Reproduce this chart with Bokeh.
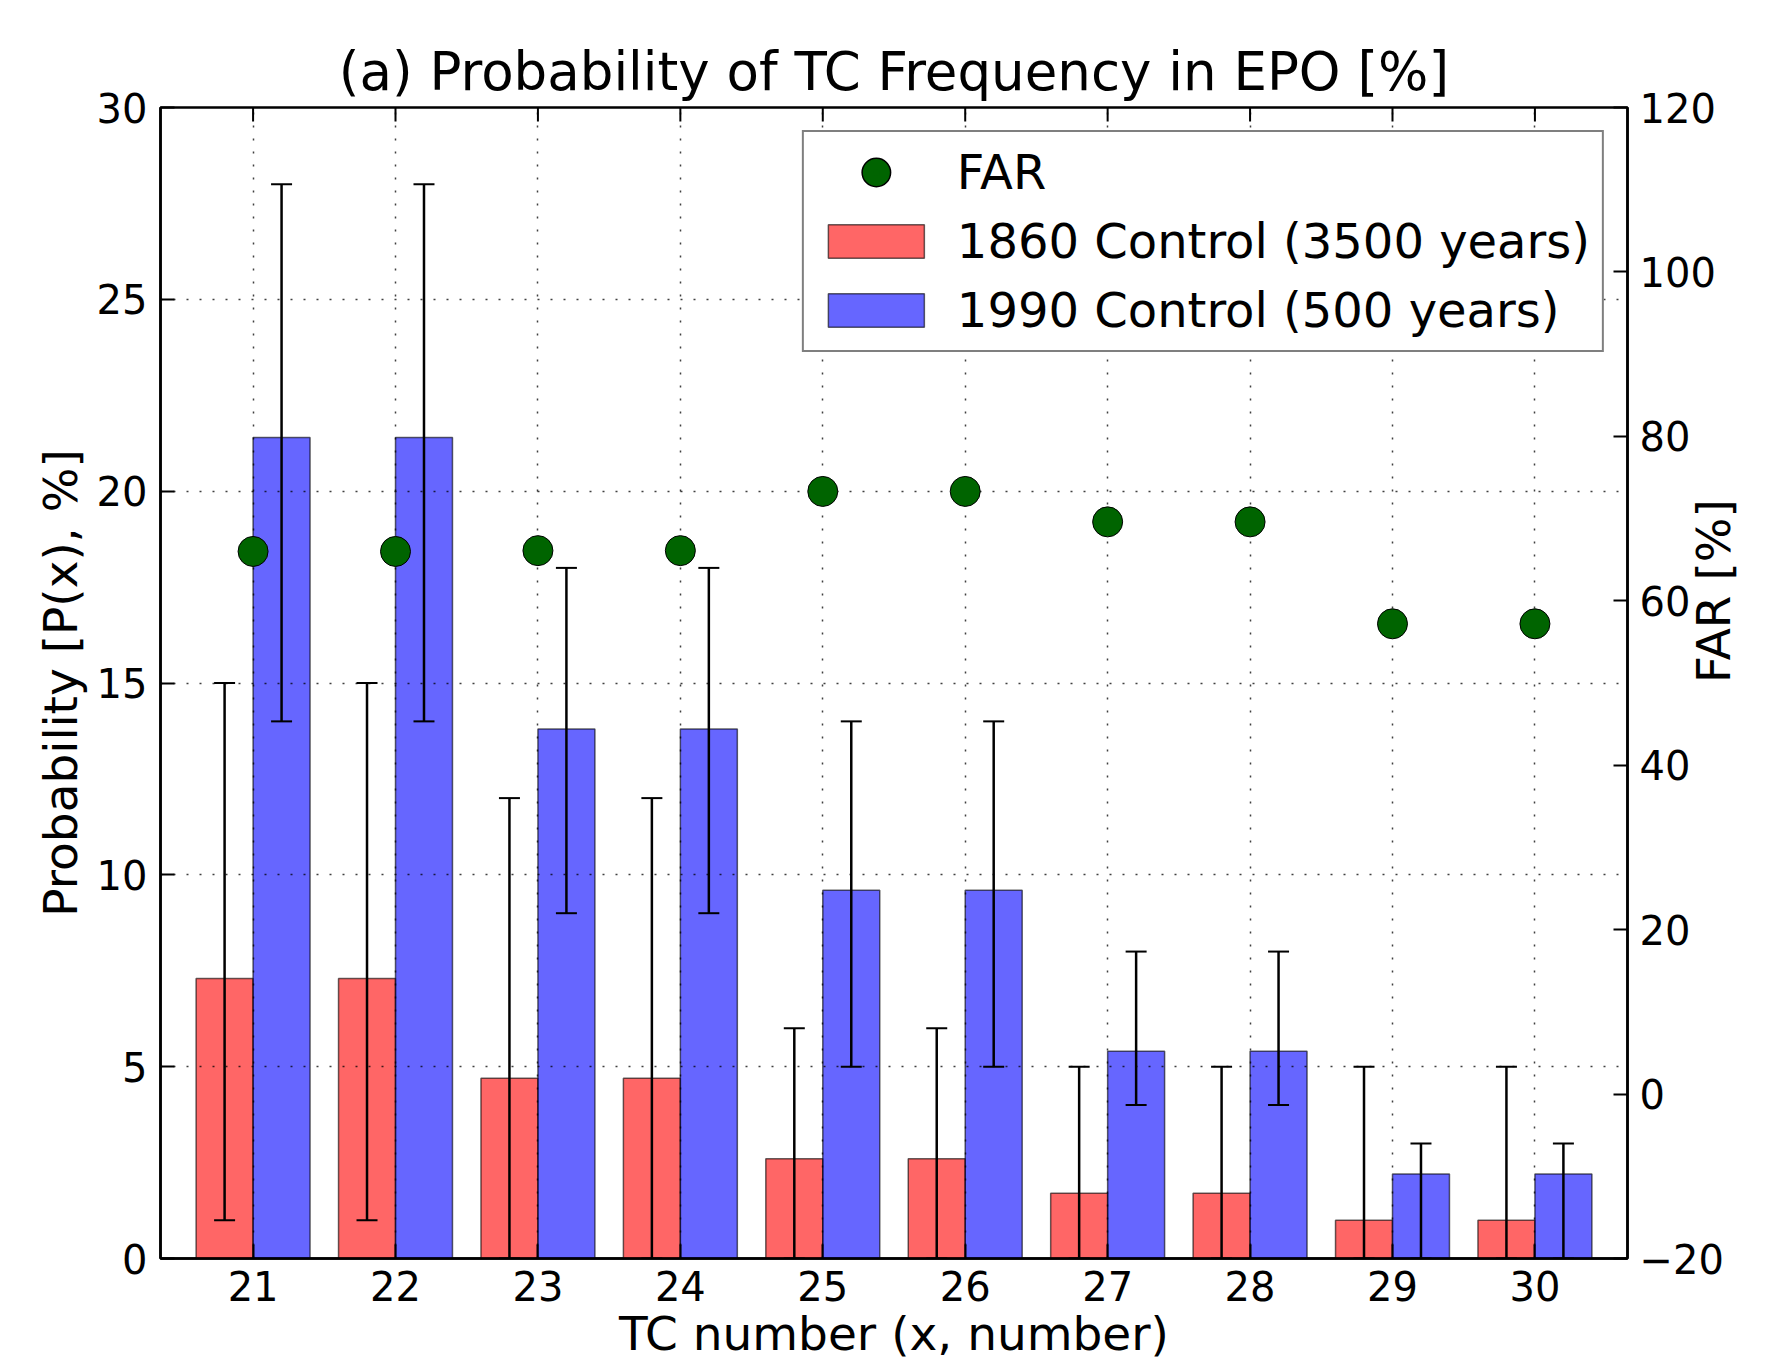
import math
from bokeh.plotting import figure
from bokeh.models import (Range1d, LinearAxis, FixedTicker, ColumnDataSource,
                          Whisker, TeeHead, Legend, LegendItem)
from bokeh.embed import file_html
from bokeh.resources import INLINE

# ---------------- data ----------------
tc_number = [21, 22, 23, 24, 25, 26, 27, 28, 29, 30]
prob_1860 = [7.3, 7.3, 4.7, 4.7, 2.6, 2.6, 1.7, 1.7, 1.0, 1.0]
prob_1990 = [21.4, 21.4, 13.8, 13.8, 9.6, 9.6, 5.4, 5.4, 2.2, 2.2]
err_1860_low = [1, 1, 0, 0, 0, 0, 0, 0, 0, 0]
err_1860_high = [15, 15, 12, 12, 6, 6, 5, 5, 5, 5]
err_1990_low = [14, 14, 9, 9, 5, 5, 4, 4, 0, 0]
err_1990_high = [28, 28, 18, 18, 14, 14, 8, 8, 3, 3]
far = [66.0, 66.0, 66.1, 66.1, 73.3, 73.3, 69.6, 69.6, 57.2, 57.2]
prob_ticks = [0, 5, 10, 15, 20, 25, 30]
far_ticks = [-20, 0, 20, 40, 60, 80, 100, 120]

BAR_W = 0.4
FONT = "DejaVu Sans"
W, H = 1771, 1365
B_LEFT, B_RIGHT, B_TOP, B_BOTTOM = 160, 144, 107, 107
X_LO, X_HI = 20.35, 30.65
Y_LO, Y_HI = 0, 30

src = ColumnDataSource(dict(
    x=tc_number,
    x_red=[x - BAR_W / 2 for x in tc_number],
    x_blue=[x + BAR_W / 2 for x in tc_number],
    p1860=prob_1860, p1990=prob_1990,
    lo1860=err_1860_low, hi1860=err_1860_high,
    lo1990=err_1990_low, hi1990=err_1990_high,
    far=far,
))

p = figure(width=W, height=H,
           x_range=Range1d(X_LO, X_HI), y_range=Range1d(Y_LO, Y_HI),
           output_backend="svg", toolbar_location=None,
           min_border_left=B_LEFT, min_border_right=B_RIGHT,
           min_border_top=B_TOP, min_border_bottom=B_BOTTOM,
           title="(a) Probability of TC Frequency in EPO [%]")
p.extra_y_ranges = {"far": Range1d(-20, 120)}

p.title.align = "center"
p.title.text_font = FONT
p.title.text_font_size = "53px"
p.title.text_font_style = "normal"
p.title.text_color = "black"
p.title.standoff = 11

p.outline_line_color = "black"
p.outline_line_width = 2.5
p.background_fill_color = "white"
p.border_fill_color = "white"

# ---------------- bars ----------------
r_red = p.vbar(x="x_red", width=BAR_W, bottom=0, top="p1860", source=src,
               fill_color="red", fill_alpha=0.6, line_color="black",
               line_alpha=0.6, line_width=1.5, level="image")
r_blue = p.vbar(x="x_blue", width=BAR_W, bottom=0, top="p1990", source=src,
                fill_color="blue", fill_alpha=0.6, line_color="black",
                line_alpha=0.6, line_width=1.5, level="image")

# ---------------- error bars ----------------
for base, lo, hi in (("x_red", "lo1860", "hi1860"), ("x_blue", "lo1990", "hi1990")):
    w = Whisker(source=src, base=base, lower=lo, upper=hi, dimension="height",
                line_color="black", line_width=2.5, level="glyph",
                upper_head=TeeHead(size=21, line_width=2, line_color="black"),
                lower_head=TeeHead(size=21, line_width=2, line_color="black"))
    p.add_layout(w)

# ---------------- top-edge tick marks (inward, like the other axes) ----------------
frame_h = H - B_TOP - B_BOTTOM
tick_len = 14 * (Y_HI - Y_LO) / frame_h
p.segment(x0=tc_number, x1=tc_number, y0=[Y_HI] * len(tc_number),
          y1=[Y_HI - tick_len] * len(tc_number), line_color="black", line_width=2)

# ---------------- FAR points ----------------
r_far = p.scatter(x="x", y="far", source=src, y_range_name="far", size=30,
                  fill_color="#006400", line_color="black", line_width=1)

# legend proxies (nothing drawn in the plot area)
proxy = ColumnDataSource(dict(x=[float("nan")], y=[float("nan")]))
leg_a = p.scatter(x="x", y="y", source=proxy, size=17, fill_color="black",
                  line_color="black", line_width=13.2)
leg_b = p.scatter(x="x", y="y", source=proxy, size=17, fill_color="#006400",
                  line_color="#006400", line_width=10.2)

# ---------------- axes ----------------
xt = FixedTicker(ticks=tc_number)
yt = FixedTicker(ticks=prob_ticks)
ft = FixedTicker(ticks=far_ticks)


def style_axis(ax):
    ax.axis_line_color = "black"
    ax.axis_line_width = 2.5
    ax.major_tick_in = 14
    ax.major_tick_out = 0
    ax.major_tick_line_color = "black"
    ax.major_tick_line_width = 2
    ax.minor_tick_line_color = None
    ax.major_label_text_font = FONT
    ax.major_label_text_font_size = "40px"
    ax.major_label_text_color = "black"
    ax.axis_label_text_font = FONT
    ax.axis_label_text_font_size = "47px"
    ax.axis_label_text_font_style = "normal"
    ax.axis_label_text_color = "black"


xa = p.below[0]
xa.ticker = xt
xa.axis_label = "TC number (x, number)"
style_axis(xa)
xa.major_label_standoff = 12
xa.axis_label_standoff = 2

ya = p.left[0]
ya.ticker = yt
ya.axis_label = "Probability [P(x), %]"
style_axis(ya)
ya.major_label_standoff = 13
ya.axis_label_standoff = 6

ra = LinearAxis(y_range_name="far", ticker=ft, axis_label="FAR [%]")
style_axis(ra)
ra.major_label_standoff = 12
ra.axis_label_standoff = -13
ra.axis_label_orientation = math.pi / 2
p.add_layout(ra, "right")

# ---------------- grid ----------------
for g in (p.xgrid[0], p.ygrid[0]):
    g.grid_line_color = "black"
    g.grid_line_alpha = 0.75
    g.grid_line_width = 1.5
    g.grid_line_dash = "2 11"
p.xgrid[0].ticker = xt
p.ygrid[0].ticker = yt

# ---------------- legend ----------------
legend = Legend(items=[
    LegendItem(label="FAR", renderers=[leg_a, leg_b]),
    LegendItem(label="1860 Control (3500 years)", renderers=[r_red]),
    LegendItem(label="1990 Control (500 years)", renderers=[r_blue]),
], location="top_right")
legend.margin = 23
legend.padding = 12
legend.spacing = 13
legend.glyph_width = 120
legend.glyph_height = 42
legend.label_standoff = 21
legend.label_text_font = FONT
legend.label_text_font_size = "48px"
legend.label_text_color = "black"
legend.border_line_color = "black"
legend.border_line_width = 2.5
legend.background_fill_color = "white"
legend.background_fill_alpha = 1.0
p.add_layout(legend)

open("out.html", "w").write(file_html(p, INLINE))
